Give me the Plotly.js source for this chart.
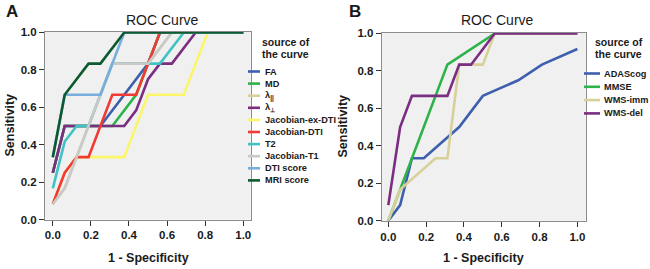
<!DOCTYPE html>
<html><head><meta charset="utf-8">
<script src="https://cdn.plot.ly/plotly-3.0.1.min.js"></script>
<style>html,body{margin:0;padding:0;background:#fff;}#chart{width:650px;height:269px;}</style>
</head><body><div id="chart"></div>
<script>
// ---- Panel A data ----
var namesA = ['FA', 'MD', 'λ<sub>||</sub>', 'λ<sub>⊥</sub>', 'Jacobian-ex-DTI', 'Jacobian-DTI', 'T2', 'Jacobian-T1', 'DTI score', 'MRI score'];
var colorsA = ['#3d5fad', '#2db34a', '#d8d09a', '#7b2d81', '#fbf56a', '#f03a33', '#3fc3c3', '#c9c9c9', '#77aedd', '#0c5a2f'];
var faX = [0, 0.0625, 0.25, 0.5, 0.5625, 1];
var faY = [0.25, 0.5, 0.5, 0.8333, 1, 1];
var mdX = [0, 0.0625, 0.3125, 0.4375, 0.5625, 1];
var mdY = [0.25, 0.5, 0.5, 0.6667, 1, 1];
var lparX = [0, 0.0625, 0.3125, 0.5, 0.625, 1];
var lparY = [0.0833, 0.1667, 0.8333, 0.8333, 1, 1];
var lperpX = [0, 0.0625, 0.375, 0.4375, 0.5, 0.5625, 0.625, 0.75, 1];
var lperpY = [0.25, 0.5, 0.5, 0.5833, 0.75, 0.8333, 0.8333, 1, 1];
var jexX = [0, 0.0625, 0.125, 0.375, 0.5, 0.6875, 0.8125, 1];
var jexY = [0.0833, 0.25, 0.3333, 0.3333, 0.6667, 0.6667, 1, 1];
var jdtiX = [0, 0.0625, 0.125, 0.1875, 0.3125, 0.4375, 0.5625, 1];
var jdtiY = [0.0833, 0.25, 0.3333, 0.3333, 0.6667, 0.6667, 1, 1];
var t2X = [0, 0.0625, 0.125, 0.1875, 0.3125, 0.5625, 0.6875, 1];
var t2Y = [0.1667, 0.4167, 0.5, 0.5, 0.8333, 0.8333, 1, 1];
var jt1X = [0, 0.0625, 0.3125, 0.5, 0.625, 1];
var jt1Y = [0.0833, 0.1667, 0.8333, 0.8333, 1, 1];
var dtiX = [0, 0.0625, 0.25, 0.375, 1];
var dtiY = [0.3333, 0.6667, 0.6667, 1, 1];
var mriX = [0, 0.0625, 0.1875, 0.25, 0.375, 1];
var mriY = [0.3333, 0.6667, 0.8333, 0.8333, 1, 1];

// ---- Panel B data ----
var namesB = ['ADAScog', 'MMSE', 'WMS-imm', 'WMS-del'];
var colorsB = ['#3d5fad', '#2db34a', '#d8d09a', '#7b2d81'];
var adasX = [0, 0.0625, 0.125, 0.1875, 0.375, 0.5, 0.6875, 0.8125, 1];
var adasY = [0, 0.0833, 0.3333, 0.3333, 0.5, 0.6667, 0.75, 0.8333, 0.9167];
var mmseX = [0, 0.0625, 0.3125, 0.5625, 1];
var mmseY = [0, 0.1667, 0.8333, 1, 1];
var immX = [0, 0.0625, 0.25, 0.3125, 0.375, 0.5, 0.5625, 1];
var immY = [0, 0.1667, 0.3333, 0.3333, 0.8333, 0.8333, 1, 1];
var delX = [0, 0.0625, 0.125, 0.3125, 0.375, 0.4375, 0.5625, 1];
var delY = [0.0833, 0.5, 0.6667, 0.6667, 0.8333, 0.8333, 1, 1];

var tickVals = [0, 0.2, 0.4, 0.6, 0.8, 1.0];

var W = 650, H = 269;
function px(x) { return x / W; }
function py(y) { return 1 - y / H; }

var seriesA = [[faX, faY], [mdX, mdY], [lparX, lparY], [lperpX, lperpY], [jexX, jexY], [jdtiX, jdtiY], [t2X, t2Y], [jt1X, jt1Y], [dtiX, dtiY], [mriX, mriY]];
var seriesB = [[adasX, adasY], [mmseX, mmseY], [immX, immY], [delX, delY]];

var traces = [];
seriesA.forEach(function (s, i) {
  traces.push({x: s[0], y: s[1], type: 'scatter', mode: 'lines', name: namesA[i], xaxis: 'x', yaxis: 'y',
    line: {color: colorsA[i], width: 2.6}, hoverinfo: 'skip'});
});
seriesB.forEach(function (s, i) {
  traces.push({x: s[0], y: s[1], type: 'scatter', mode: 'lines', name: namesB[i], xaxis: 'x2', yaxis: 'y2',
    line: {color: colorsB[i], width: 2.6}, hoverinfo: 'skip'});
});

var tickFont = {family: 'Liberation Sans, Arial, sans-serif', size: 11.5, color: '#1a1a1a', weight: 'bold'};
function axis(domain, range) {
  return {domain: domain, range: range, showgrid: false, zeroline: false, showline: true, mirror: true,
    linecolor: '#8c8c8c', linewidth: 1, ticks: 'outside', ticklen: 5, tickcolor: '#333', tickwidth: 1,
    tickvals: tickVals, tickformat: '.1f', tickfont: tickFont, fixedrange: true};
}

var ax1x = axis([px(45), px(250.7)], [-0.041, 1.039]);
var ax1y = axis([py(219.5), py(31.7)], [0, 1.004]);
var ax2x = axis([px(381.7), px(585.7)], [-0.035, 1.044]);
var ax2y = axis([py(220.7), py(32.7)], [0, 1.004]);
ax1y.anchor = 'x'; ax1x.anchor = 'y';
ax2x.anchor = 'y2'; ax2y.anchor = 'x2';

var bold = function (size) { return {family: 'Liberation Sans, Arial, sans-serif', size: size, color: '#1a1a1a', weight: 'bold'}; };
var plain = function (size) { return {family: 'Liberation Sans, Arial, sans-serif', size: size, color: '#1a1a1a'}; };

var ann = [];
function A(x, y, text, font, opts) {
  var o = {xref: 'paper', yref: 'paper', x: px(x), y: py(y), text: text, showarrow: false, font: font,
    xanchor: 'center', yanchor: 'middle'};
  for (var k in (opts || {})) o[k] = opts[k];
  ann.push(o);
}
// panel letters and titles
A(4, 11, 'A', bold(17), {xanchor: 'left'});
A(347, 11, 'B', bold(17), {xanchor: 'left'});
A(162, 20, 'ROC Curve', plain(14));
A(497, 20, 'ROC Curve', plain(14));
// axis titles
A(148, 258, '1 - Specificity', bold(12.5));
A(483, 258, '1 - Specificity', bold(12.5));
A(9, 125.5, 'Sensitivity', bold(12.5), {textangle: -90});
A(342, 126.5, 'Sensitivity', bold(12.5), {textangle: -90});
// legend titles
A(260, 42, 'source of', bold(10.5), {xanchor: 'left'});
A(260, 54, 'the curve', bold(10.5), {xanchor: 'left'});
A(593, 42, 'source of', bold(10.5), {xanchor: 'left'});
A(593, 54, 'the curve', bold(10.5), {xanchor: 'left'});

var shapes = [];
namesA.forEach(function (n, i) {
  var yy = 71.5 + i * 12.1;
  A(262.5, yy, n, bold(9.2), {xanchor: 'left'});
  shapes.push({type: 'line', xref: 'paper', yref: 'paper', x0: px(248), x1: px(260), y0: py(yy), y1: py(yy),
    line: {color: colorsA[i], width: 2.6}});
});
namesB.forEach(function (n, i) {
  var yy = 73.5 + i * 13.3;
  A(601.5, yy, n, bold(9.2), {xanchor: 'left'});
  shapes.push({type: 'line', xref: 'paper', yref: 'paper', x0: px(584), x1: px(600), y0: py(yy), y1: py(yy),
    line: {color: colorsB[i], width: 2.6}});
});

var layout = {
  width: W, height: H, margin: {l: 0, r: 0, t: 0, b: 0},
  paper_bgcolor: '#ffffff', plot_bgcolor: '#f0f0f0', showlegend: false,
  xaxis: ax1x, yaxis: ax1y, xaxis2: ax2x, yaxis2: ax2y,
  annotations: ann, shapes: shapes
};
Plotly.newPlot('chart', traces, layout, {staticPlot: true, displayModeBar: false});
</script></body></html>
